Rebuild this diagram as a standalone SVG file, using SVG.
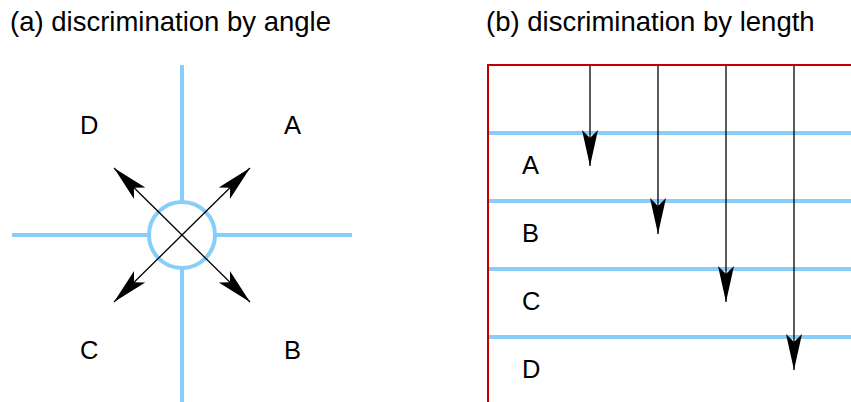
<svg xmlns="http://www.w3.org/2000/svg" width="851" height="402" viewBox="0 0 851 402">
<style>
.t{font-family:"Liberation Sans",Arial,sans-serif;fill:#000}
.title{font-size:27.5px}
.lab{font-size:25.5px}
.blue{stroke:#87CEFA;stroke-width:4;fill:none}
.arr{stroke:#000;stroke-width:1.3;fill:none;marker-end:url(#ah)}
</style>
<defs>
<marker id="ah" viewBox="-37 -9 38 18" markerWidth="38" markerHeight="18" refX="0" refY="0" orient="auto" markerUnits="userSpaceOnUse">
<path d="M0,0 L-36,-8 L-28,0 L-36,8 Z" fill="#000"/>
</marker>
</defs>
<rect width="851" height="402" fill="#fff"/>
<text class="t title" x="10" y="31">(a) discrimination by angle</text>
<text class="t title" x="486" y="31">(b) discrimination by length</text>

<g id="panel-a">
<g id="axes">
<line class="blue" x1="182" y1="65" x2="182" y2="202"/>
<line class="blue" x1="182" y1="268" x2="182" y2="402"/>
<line class="blue" x1="12" y1="235" x2="149" y2="235"/>
<line class="blue" x1="215" y1="235" x2="352" y2="235"/>
<circle class="blue" cx="182" cy="235" r="33"/>
</g>
<g id="label-D"><text class="t lab" x="80" y="134">D</text></g>
<g id="label-A"><text class="t lab" x="284" y="134">A</text></g>
<g id="label-C"><text class="t lab" x="80" y="359">C</text></g>
<g id="label-B"><text class="t lab" x="284" y="359">B</text></g>
<g id="connectors-a">
<line class="arr" x1="182" y1="235" x2="114" y2="168"/>
<line class="arr" x1="182" y1="235" x2="250" y2="168"/>
<line class="arr" x1="182" y1="235" x2="114" y2="302"/>
<line class="arr" x1="182" y1="235" x2="250" y2="302"/>
</g>
</g>

<g id="panel-b">
<path d="M488,402 V65 H851" fill="none" stroke="#C00000" stroke-width="2"/>
<g id="bands">
<line class="blue" x1="489" y1="133" x2="851" y2="133"/>
<line class="blue" x1="489" y1="201" x2="851" y2="201"/>
<line class="blue" x1="489" y1="269" x2="851" y2="269"/>
<line class="blue" x1="489" y1="337" x2="851" y2="337"/>
</g>
<g id="band-A"><text class="t lab" x="522" y="174">A</text></g>
<g id="band-B"><text class="t lab" x="522" y="242">B</text></g>
<g id="band-C"><text class="t lab" x="522" y="310">C</text></g>
<g id="band-D"><text class="t lab" x="522" y="378">D</text></g>
<g id="connectors-b">
<line class="arr" x1="590" y1="66" x2="590" y2="166"/>
<line class="arr" x1="658" y1="66" x2="658" y2="234"/>
<line class="arr" x1="726" y1="66" x2="726" y2="302"/>
<line class="arr" x1="794" y1="66" x2="794" y2="370"/>
</g>
</g>
</svg>
